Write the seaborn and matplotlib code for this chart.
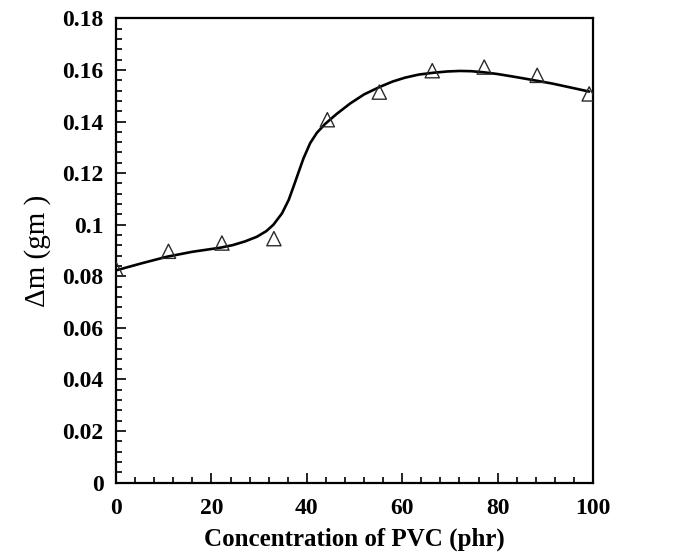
import matplotlib
matplotlib.use("Agg")
import matplotlib.pyplot as plt
from matplotlib.ticker import MultipleLocator, FuncFormatter
import seaborn as sns
import pandas as pd

# Measured mass change versus PVC loading
pvc_phr = [0, 11, 22.2, 33.1, 44.3, 55.2, 66.3, 77.2, 88.3, 99.2]
delta_m = [0.0828, 0.0897, 0.0929, 0.0946, 0.1407, 0.1514, 0.1597, 0.1611, 0.1579, 0.1507]

# Fitted trend curve
fit_x = [0.2, 5.5, 10.7, 16.0, 21.9, 24.5, 27.0, 29.5, 31.5, 33.0, 34.8,
         36.2, 37.2, 38.3, 39.3, 40.7, 42.1, 43.8, 46.3, 49.1, 52.0, 55.4,
         58.0, 60.6, 63.5, 66.5, 69.5, 72.1, 74.5, 77.0, 80.0, 83.3, 85.8,
         88.2, 91.5, 94.5, 97.0, 99.2]
fit_y = [0.0824, 0.0851, 0.0876, 0.0895, 0.0911, 0.0921, 0.0935, 0.0953,
         0.0975, 0.1000, 0.1044, 0.1096, 0.1147, 0.1205, 0.1257, 0.1316,
         0.1356, 0.1390, 0.1430, 0.1470, 0.1505, 0.1535, 0.1555, 0.1570,
         0.1582, 0.1589, 0.1594, 0.1596, 0.1595, 0.1591, 0.1584, 0.1574,
         0.1566, 0.1558, 0.1547, 0.1535, 0.1525, 0.1516]

points = pd.DataFrame({"x": pvc_phr, "y": delta_m})
curve = pd.DataFrame({"x": fit_x, "y": fit_y})

sns.set_theme(style="ticks")
plt.rcParams["font.family"] = ["Liberation Serif", "DejaVu Serif"]

fig = plt.figure(figsize=(6.75, 5.55), dpi=100)
ax = fig.add_axes([0.1719, 0.1303, 0.7066, 0.8367])

sns.lineplot(data=curve, x="x", y="y", ax=ax, color="black", linewidth=1.9,
             sort=False)
sns.scatterplot(data=points, x="x", y="y", ax=ax, marker="^", s=105,
                facecolor="none", edgecolor="#2a2a2a", linewidth=1.0,
                zorder=3)

ax.set_xlim(0, 100)
ax.set_ylim(0, 0.18)
ax.xaxis.set_major_locator(MultipleLocator(20))
ax.xaxis.set_minor_locator(MultipleLocator(4))
ax.yaxis.set_major_locator(MultipleLocator(0.02))
ax.yaxis.set_minor_locator(MultipleLocator(0.004))
ax.yaxis.set_major_formatter(FuncFormatter(lambda v, p: f"{round(v, 3):g}"))

for s in ax.spines.values():
    s.set_linewidth(1.6)
    s.set_color("black")

ax.tick_params(which="both", direction="in", top=False, right=False,
               colors="black", labelcolor="black", width=1.2)
ax.tick_params(which="major", length=7, labelsize=17)
ax.tick_params(axis="y", which="major", pad=9)
ax.tick_params(axis="x", which="major", pad=11)
ax.tick_params(which="minor", length=4.5)
for lab in ax.get_xticklabels() + ax.get_yticklabels():
    lab.set_fontweight("bold")

ax.set_xlabel("Concentration of PVC (phr)", fontsize=18, fontweight="bold",
              labelpad=6, color="black")
ax.set_ylabel("\u0394m (gm )", fontsize=21, labelpad=8, color="black")

fig.savefig("out.png", dpi=100)
